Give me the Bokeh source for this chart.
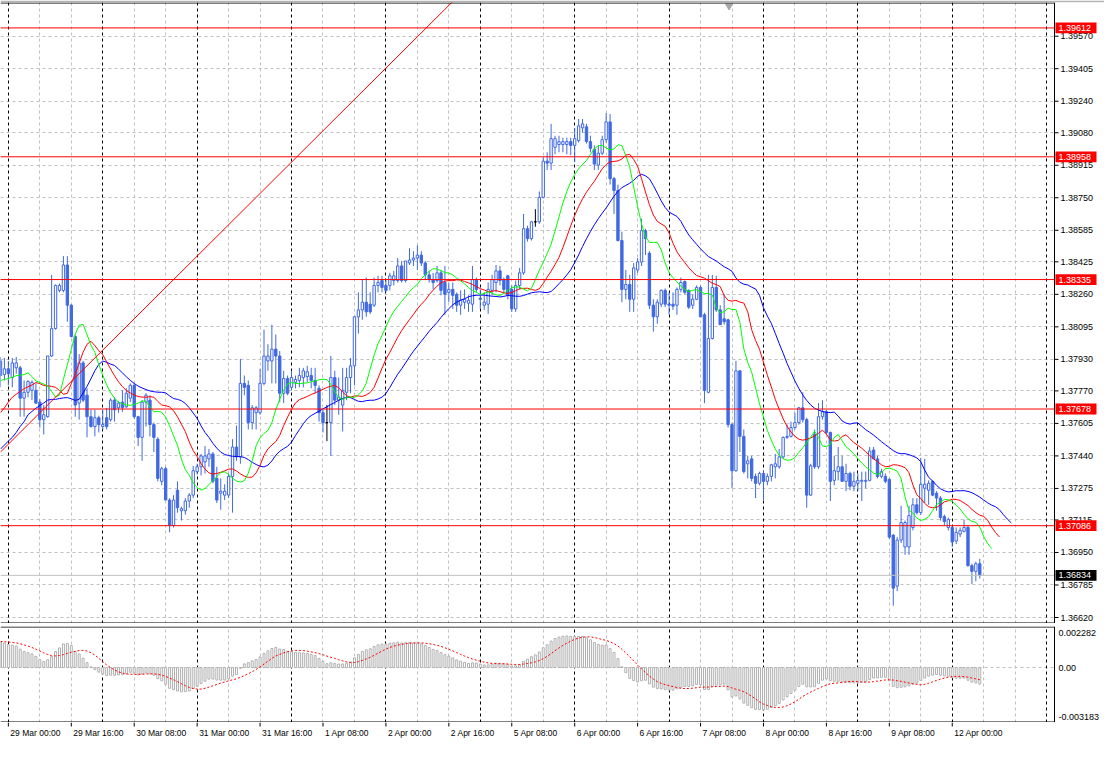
import numpy as np
from bokeh.plotting import figure
from bokeh.models import Range1d, FixedTicker, Grid, ColumnDataSource
from bokeh.layouts import column
from bokeh.embed import file_html
from bokeh.resources import INLINE
from bokeh.core.properties import value

# ---------------- data (H1 bars, bar 0 = 29 Mar 00:00, weekends skipped) ----------------
first_bar = -2

opens = [1.37848,1.37853,1.37882,1.37838,1.37887,1.37887,1.37733,1.37763,1.37773,1.37773,
1.37713,1.37624,1.37639,1.37947,1.38086,1.38280,1.38280,1.38409,1.38205,1.38046,
1.37708,1.37912,1.37748,1.37639,1.37589,1.37634,1.37589,1.37634,1.37624,1.37723,
1.37684,1.37713,1.37689,1.37733,1.37798,1.37639,1.37534,1.37713,1.37723,1.37599,
1.37525,1.37311,1.37375,1.37216,1.37087,1.37266,1.37162,1.37162,1.37211,1.37241,
1.37360,1.37385,1.37410,1.37425,1.37450,1.37326,1.37251,1.37241,1.37241,1.37336,
1.37485,1.37435,1.37808,1.37798,1.37609,1.37659,1.37659,1.37808,1.37922,1.37922,
1.37982,1.37947,1.37758,1.37833,1.37788,1.37813,1.37823,1.37838,1.37843,1.37848,
1.37823,1.37783,1.37659,1.37609,1.37609,1.37838,1.37723,1.37698,1.37763,1.37838,
1.37897,1.38146,1.38181,1.38220,1.38210,1.38205,1.38305,1.38330,1.38305,1.38305,
1.38330,1.38330,1.38404,1.38330,1.38419,1.38434,1.38444,1.38459,1.38419,1.38359,
1.38335,1.38330,1.38369,1.38320,1.38270,1.38285,1.38260,1.38205,1.38220,1.38215,
1.38210,1.38335,1.38240,1.38205,1.38210,1.38280,1.38320,1.38379,1.38335,1.38354,
1.38285,1.38186,1.38305,1.38369,1.38593,1.38543,1.38628,1.38628,1.38752,1.38936,
1.38926,1.39006,1.39020,1.39020,1.39020,1.39035,1.39016,1.39040,1.39105,1.39110,
1.39035,1.38996,1.38916,1.38976,1.39045,1.39135,1.38847,1.38787,1.38533,1.38285,
1.38310,1.38235,1.38384,1.38424,1.38583,1.38469,1.38205,1.38146,1.38210,1.38280,
1.38210,1.38210,1.38205,1.38285,1.38325,1.38280,1.38205,1.38235,1.38295,1.38156,
1.37763,1.38036,1.38295,1.38181,1.38136,1.38131,1.37599,1.37365,1.37872,1.37539,
1.37400,1.37425,1.37336,1.37301,1.37351,1.37311,1.37336,1.37385,1.37385,1.37435,
1.37534,1.37539,1.37584,1.37609,1.37684,1.37624,1.37241,1.37549,1.37385,1.37639,
1.37664,1.37559,1.37316,1.37360,1.37385,1.37311,1.37351,1.37286,1.37301,1.37311,
1.37311,1.37316,1.37470,1.37425,1.37336,1.37336,1.37321,1.37038,1.36779,1.37013,
1.36978,1.36978,1.37077,1.37192,1.37152,1.37276,1.37266,1.37311,1.37251,1.37226,
1.37132,1.37077,1.37077,1.37008,1.37043,1.37057,1.37077,1.36883,1.36854,1.36893]

highs = [1.37942,1.37937,1.37922,1.37937,1.37942,1.37897,1.37823,1.37823,1.37823,1.37808,
1.37728,1.37698,1.37947,1.38359,1.38310,1.38315,1.38454,1.38454,1.38210,1.38056,
1.37957,1.37922,1.37783,1.37674,1.37674,1.37644,1.37674,1.37684,1.37733,1.37738,
1.37718,1.37773,1.37783,1.37808,1.37808,1.37644,1.37723,1.37758,1.37748,1.37609,
1.37534,1.37385,1.37385,1.37226,1.37241,1.37311,1.37182,1.37226,1.37251,1.37390,
1.37400,1.37450,1.37490,1.37475,1.37460,1.37385,1.37326,1.37296,1.37351,1.37525,
1.37594,1.37932,1.37848,1.37823,1.37698,1.37693,1.37882,1.38081,1.38007,1.38106,
1.38056,1.37972,1.37872,1.37848,1.37872,1.37848,1.37887,1.37887,1.37897,1.37887,
1.37887,1.37798,1.37674,1.37698,1.37947,1.37872,1.37838,1.37887,1.37887,1.37937,
1.38146,1.38270,1.38335,1.38345,1.38270,1.38345,1.38354,1.38354,1.38335,1.38369,
1.38379,1.38444,1.38429,1.38429,1.38494,1.38479,1.38509,1.38479,1.38429,1.38379,
1.38369,1.38404,1.38384,1.38404,1.38320,1.38320,1.38270,1.38280,1.38285,1.38255,
1.38404,1.38345,1.38285,1.38270,1.38320,1.38359,1.38409,1.38404,1.38345,1.38359,
1.38305,1.38330,1.38394,1.38668,1.38608,1.38633,1.38692,1.38782,1.38956,1.38981,
1.39125,1.39065,1.39065,1.39055,1.39055,1.39055,1.39105,1.39150,1.39150,1.39125,
1.39065,1.39016,1.39016,1.39065,1.39180,1.39175,1.38856,1.38817,1.38578,1.38384,
1.38359,1.38419,1.38444,1.38643,1.38593,1.38479,1.38235,1.38235,1.38285,1.38290,
1.38270,1.38270,1.38295,1.38345,1.38330,1.38285,1.38260,1.38305,1.38305,1.38166,
1.38359,1.38359,1.38354,1.38205,1.38260,1.38136,1.37609,1.37922,1.37872,1.37574,
1.37440,1.37440,1.37351,1.37360,1.37365,1.37351,1.37400,1.37450,1.37475,1.37539,
1.37599,1.37614,1.37659,1.37689,1.37763,1.37634,1.37400,1.37574,1.37708,1.37723,
1.37674,1.37564,1.37440,1.37485,1.37440,1.37400,1.37360,1.37360,1.37351,1.37360,
1.37360,1.37485,1.37485,1.37440,1.37375,1.37351,1.37326,1.37043,1.37028,1.37187,
1.37112,1.37187,1.37226,1.37226,1.37430,1.37425,1.37316,1.37316,1.37261,1.37236,
1.37142,1.37127,1.37087,1.37077,1.37077,1.37117,1.37087,1.36893,1.36903,1.36918]

lows = [1.37788,1.37823,1.37798,1.37788,1.37857,1.37639,1.37639,1.37738,1.37723,1.37703,
1.37584,1.37549,1.37634,1.37942,1.38081,1.38270,1.38270,1.38121,1.38041,1.37639,
1.37624,1.37713,1.37534,1.37584,1.37539,1.37559,1.37574,1.37574,1.37614,1.37614,
1.37659,1.37664,1.37684,1.37713,1.37629,1.37490,1.37415,1.37589,1.37539,1.37460,
1.37311,1.37291,1.37216,1.37052,1.37077,1.37152,1.37112,1.37142,1.37177,1.37226,
1.37346,1.37341,1.37351,1.37385,1.37301,1.37201,1.37167,1.37216,1.37226,1.37152,
1.37415,1.37400,1.37748,1.37574,1.37574,1.37574,1.37649,1.37798,1.37872,1.37808,
1.37808,1.37713,1.37708,1.37748,1.37773,1.37783,1.37788,1.37788,1.37813,1.37783,
1.37758,1.37614,1.37559,1.37515,1.37440,1.37698,1.37649,1.37564,1.37723,1.37758,
1.37798,1.38061,1.38131,1.38146,1.38161,1.38195,1.38270,1.38270,1.38270,1.38280,
1.38305,1.38320,1.38320,1.38320,1.38409,1.38404,1.38384,1.38404,1.38335,1.38320,
1.38285,1.38320,1.38255,1.38156,1.38220,1.38186,1.38171,1.38156,1.38186,1.38171,
1.38171,1.38270,1.38186,1.38181,1.38161,1.38255,1.38270,1.38305,1.38270,1.38235,
1.38171,1.38171,1.38285,1.38359,1.38528,1.38533,1.38603,1.38618,1.38747,1.38891,
1.38891,1.38971,1.38981,1.38981,1.38971,1.38966,1.38931,1.39030,1.39080,1.39025,
1.38981,1.38891,1.38891,1.38966,1.39030,1.38817,1.38668,1.38528,1.38220,1.38235,
1.38171,1.38171,1.38369,1.38404,1.38459,1.38186,1.38071,1.38111,1.38195,1.38195,
1.38156,1.38181,1.38156,1.38270,1.38260,1.38186,1.38186,1.38230,1.38146,1.37708,
1.37758,1.38031,1.38171,1.38106,1.38106,1.37584,1.37276,1.37360,1.37460,1.37351,
1.37326,1.37311,1.37226,1.37291,1.37216,1.37291,1.37311,1.37326,1.37375,1.37425,
1.37525,1.37534,1.37574,1.37599,1.37609,1.37177,1.37236,1.37375,1.37375,1.37624,
1.37549,1.37211,1.37291,1.37316,1.37311,1.37261,1.37266,1.37261,1.37261,1.37211,
1.37276,1.37311,1.37425,1.37326,1.37326,1.37301,1.37018,1.36680,1.36754,1.36998,
1.36938,1.36938,1.37062,1.37142,1.37142,1.37201,1.37192,1.37236,1.37162,1.37112,
1.37087,1.37062,1.36978,1.36993,1.37028,1.37052,1.36878,1.36789,1.36804,1.36818]

closes = [1.37922,1.37882,1.37857,1.37912,1.37912,1.37733,1.37763,1.37818,1.37813,1.37708,
1.37624,1.37649,1.37947,1.38086,1.38305,1.38305,1.38409,1.38205,1.38046,1.37698,
1.37912,1.37723,1.37639,1.37589,1.37634,1.37599,1.37599,1.37589,1.37723,1.37674,
1.37708,1.37684,1.37758,1.37798,1.37639,1.37534,1.37713,1.37748,1.37599,1.37534,
1.37326,1.37375,1.37216,1.37087,1.37216,1.37177,1.37172,1.37211,1.37241,1.37365,
1.37385,1.37440,1.37440,1.37450,1.37311,1.37216,1.37261,1.37261,1.37336,1.37485,
1.37435,1.37808,1.37788,1.37609,1.37684,1.37684,1.37808,1.37947,1.37947,1.37982,
1.37947,1.37758,1.37833,1.37758,1.37838,1.37828,1.37848,1.37872,1.37867,1.37823,
1.37798,1.37659,1.37609,1.37609,1.37838,1.37723,1.37738,1.37773,1.37838,1.37897,
1.38146,1.38181,1.38220,1.38171,1.38171,1.38305,1.38320,1.38295,1.38280,1.38354,
1.38354,1.38404,1.38330,1.38429,1.38434,1.38444,1.38459,1.38419,1.38359,1.38335,
1.38320,1.38369,1.38280,1.38260,1.38285,1.38255,1.38205,1.38230,1.38235,1.38230,
1.38335,1.38285,1.38235,1.38220,1.38285,1.38335,1.38379,1.38330,1.38285,1.38255,
1.38186,1.38305,1.38369,1.38593,1.38543,1.38628,1.38628,1.38752,1.38936,1.38926,
1.39050,1.39050,1.39035,1.39035,1.39035,1.39016,1.39050,1.39115,1.39125,1.39035,
1.39001,1.38921,1.38976,1.39045,1.39135,1.38847,1.38787,1.38533,1.38285,1.38310,
1.38235,1.38394,1.38424,1.38583,1.38543,1.38205,1.38146,1.38220,1.38280,1.38210,
1.38205,1.38200,1.38285,1.38320,1.38270,1.38195,1.38235,1.38295,1.38146,1.37773,
1.38036,1.38295,1.38181,1.38106,1.38121,1.37599,1.37365,1.37872,1.37539,1.37360,
1.37415,1.37326,1.37301,1.37351,1.37311,1.37336,1.37395,1.37400,1.37435,1.37534,
1.37539,1.37584,1.37609,1.37684,1.37624,1.37241,1.37390,1.37385,1.37639,1.37664,
1.37559,1.37311,1.37365,1.37385,1.37311,1.37351,1.37286,1.37311,1.37316,1.37316,
1.37316,1.37465,1.37425,1.37336,1.37360,1.37311,1.37028,1.36769,1.37013,1.37102,
1.37102,1.37137,1.37192,1.37152,1.37296,1.37296,1.37301,1.37241,1.37226,1.37127,
1.37107,1.37117,1.37003,1.37052,1.37062,1.37077,1.36883,1.36854,1.36893,1.36834]

# Alligator lines at the left edge (display bars -2 ...)
jaw_lead = [1.37475, 1.37495, 1.37515, 1.37534, 1.37559, 1.37589, 1.37614, 1.37649]
teeth_lead = [1.37659, 1.37684, 1.37713, 1.37738, 1.37753]
lips_lead = [1.37823, 1.37828, 1.37833]

# MACD(12,26,9) state before the first visible bar
ema12_seed = 1.37800
ema26_seed = 1.37630

# horizontal levels, bid, trend line
level_prices = [1.39612, 1.38958, 1.38335, 1.37678, 1.37086]
level_texts = ["1.39612", "1.38958", "1.38335", "1.37678", "1.37086"]
bid_price = 1.36834
bid_text = "1.36834"
trend_bars = [-2.0, 113.5]
trend_prices = [1.37460, 1.39756]

# axes
price_tick_labels = ["1.36620", "1.36785", "1.36950", "1.37115", "1.37275", "1.37440",
                     "1.37605", "1.37770", "1.37930", "1.38095", "1.38260", "1.38425",
                     "1.38585", "1.38750", "1.38915", "1.39080", "1.39240", "1.39405", "1.39570"]
date_bars = [0, 16, 32, 48, 64, 80, 96, 112, 128, 144, 160, 176, 192, 208, 224, 240]
date_labels = ["29 Mar 00:00", "29 Mar 16:00", "30 Mar 08:00", "31 Mar 00:00",
               "31 Mar 16:00", "1 Apr 08:00", "2 Apr 00:00", "2 Apr 16:00",
               "5 Apr 08:00", "6 Apr 00:00", "6 Apr 16:00", "7 Apr 08:00",
               "8 Apr 00:00", "8 Apr 16:00", "9 Apr 08:00", "12 Apr 00:00"]
macd_tick_values = [0.002282, 0.0, -0.003183]
macd_tick_labels = ["0.002282", "0.00", "-0.003183"]
shift_marker_bar = 183.25

# ---------------- derived series ----------------
O = np.array(opens); H = np.array(highs); L = np.array(lows); C = np.array(closes)
n = len(C)
idx = np.arange(first_bar, first_bar + n)

BLUE = "#4169E1"
body_fill, body_line, wick_col = [], [], []
for o, c in zip(O, C):
    if abs(o - c) < 1e-9:
        body_fill.append("black"); body_line.append("black"); wick_col.append("black")
    elif c > o:
        body_fill.append("white"); body_line.append(BLUE); wick_col.append(BLUE)
    else:
        body_fill.append(BLUE); body_line.append(BLUE); wick_col.append(BLUE)

median = (H + L) / 2.0

def smma(series, period, start):
    out, s = [], start
    for v in series:
        s = (s * (period - 1) + v) / period
        out.append(s)
    return np.array(out)

jaw = smma(median, 13, jaw_lead[-1])
teeth = smma(median, 8, teeth_lead[-1])
lips = smma(median, 5, lips_lead[-1])
jaw_x = np.concatenate([np.arange(first_bar, first_bar + len(jaw_lead)), idx + 8])
jaw_y = np.concatenate([jaw_lead, jaw])
teeth_x = np.concatenate([np.arange(first_bar, first_bar + len(teeth_lead)), idx + 5])
teeth_y = np.concatenate([teeth_lead, teeth])
lips_x = np.concatenate([np.arange(first_bar, first_bar + len(lips_lead)), idx + 3])
lips_y = np.concatenate([lips_lead, lips])

def ema(series, period, start):
    a = 2.0 / (period + 1)
    out, s = [], start
    for v in series:
        s = s + a * (v - s)
        out.append(s)
    return np.array(out)

macd_main = ema(C, 12, ema12_seed) - ema(C, 26, ema26_seed)
padded = [ema12_seed - ema26_seed] * 8 + list(macd_main)
macd_signal = np.array([np.mean(padded[k:k + 9]) for k in range(n)])

# ---------------- layout constants ----------------
FONT = "Liberation Sans"
FS = "9px"
FS_DATE = "8.5px"
GRID_GRAY = "#C0C0C0"
W = 1104
SCALE_W = 50                      # width of the price-scale strip (px)
X0, X1 = -2, 266                  # visible bars (X1 = right border of the chart)
PPB = (W - SCALE_W) / (X1 - X0)   # pixels per bar
XE = X0 + W / PPB                 # right end incl. price-scale strip
def bx(px):
    return px / PPB

MAIN_H = 621
PY1 = 1.39741
PPX = (PY1 - float(price_tick_labels[0])) / (MAIN_H - 6)
PY0 = float(price_tick_labels[0]) - 6 * PPX
MACD_H = 96
MPX = (macd_tick_values[0] - macd_tick_values[-1]) / (MACD_H - 12)
MY1 = macd_tick_values[0] + 6 * MPX
MY0 = macd_tick_values[-1] - 6 * MPX
STRIP_H = 20

vgrid_gray = [b for b in range(0, 272, 8) if b % 24 != 0]
vgrid_sep = list(range(0, 272, 24))

def add_vgrids(fig):
    fig.add_layout(Grid(dimension=0, ticker=FixedTicker(ticks=vgrid_gray),
                        grid_line_color=GRID_GRAY, grid_line_dash="3 3"), "center")
    fig.add_layout(Grid(dimension=0, ticker=FixedTicker(ticks=vgrid_sep),
                        grid_line_color="black", grid_line_dash="3 3"), "center")

def base_fig(height, y0, y1, top_border, xr=None, border_color="white"):
    f = figure(width=W, height=height, x_range=xr if xr is not None else Range1d(X0, XE),
               y_range=Range1d(y0, y1), x_axis_location=None, y_axis_location=None,
               toolbar_location=None, output_backend="svg",
               min_border_left=0, min_border_right=0, min_border_top=top_border,
               min_border_bottom=0)
    f.background_fill_color = "white"
    f.border_fill_color = border_color
    f.outline_line_color = None
    f.xgrid.visible = False
    f.ygrid.visible = False
    return f

# ---------------- main price panel ----------------
p = base_fig(MAIN_H + 2, PY0, PY1, 2, border_color="#B4B4B4")
price_ticks = [float(s) for s in price_tick_labels]
p.add_layout(Grid(dimension=1, ticker=FixedTicker(ticks=price_ticks),
                  grid_line_color=GRID_GRAY, grid_line_dash="3 3"), "center")
add_vgrids(p)

src = ColumnDataSource(dict(x=idx, h=H, l=L, top=np.maximum(O, C), bottom=np.minimum(O, C),
                            fill=body_fill, line=body_line, wick=wick_col))
p.segment(x0="x", y0="l", x1="x", y1="h", line_color="wick", line_width=1, source=src)
p.vbar(x="x", width=0.6, top="top", bottom="bottom", fill_color="fill",
       line_color="line", line_width=1, source=src)

p.line(jaw_x, jaw_y, line_color="#0000FF", line_width=1)
p.line(teeth_x, teeth_y, line_color="#FF0000", line_width=1)
p.line(lips_x, lips_y, line_color="#00FF00", line_width=1)
p.line(trend_bars, trend_prices, line_color="#FF0000", line_width=1)

nl = len(level_prices)
p.segment(x0=[X0] * nl, y0=level_prices, x1=[X1] * nl, y1=level_prices,
          line_color="#FF0000", line_width=1)
p.segment(x0=[X0], y0=[bid_price], x1=[X1], y1=[bid_price], line_color=GRID_GRAY, line_width=1)

p.scatter([shift_marker_bar], [PY1 - 3.5 * PPX], marker="inverted_triangle", size=7,
          fill_color="#A8A8A8", line_color="#A8A8A8")

# price scale strip
p.quad(left=[X1], right=[XE], bottom=[PY0], top=[PY1], fill_color="white", line_color=None)
p.segment(x0=[X1] * len(price_ticks), y0=price_ticks, x1=[X1 + bx(4)] * len(price_ticks),
          y1=price_ticks, line_color="black", line_width=1)
p.text(x=[X1] * len(price_ticks), y=price_ticks, text=price_tick_labels, x_offset=6,
       text_font=value(FONT), text_font_size=value(FS), text_color="black",
       text_align="left", text_baseline="middle")
box_colors = ["#FF0000"] * nl + ["black"]
box_prices = level_prices + [bid_price]
box_texts = level_texts + [bid_text]
p.quad(left=[X1 + bx(1)] * len(box_prices), right=[X1 + bx(42)] * len(box_prices),
       bottom=[v - 5.4 * PPX for v in box_prices], top=[v + 5.4 * PPX for v in box_prices],
       fill_color=box_colors, line_color=None)
p.text(x=[X1] * len(box_prices), y=box_prices, text=box_texts, x_offset=4,
       text_font=value(FONT), text_font_size=value(FS), text_color="white",
       text_align="left", text_baseline="middle")
# chart borders
p.segment(x0=[X1], y0=[PY0], x1=[X1], y1=[PY1], line_color="black", line_width=1)
p.segment(x0=[X0, X0], y0=[PY1 - 0.5 * PPX, PY0 + 0.5 * PPX], x1=[X1, X1],
          y1=[PY1 - 0.5 * PPX, PY0 + 0.5 * PPX], line_color="black", line_width=1)

# ---------------- MACD panel ----------------
q = base_fig(MACD_H + 3, MY0, MY1, 3, xr=p.x_range)
q.add_layout(Grid(dimension=1, ticker=FixedTicker(ticks=[0.0]),
                  grid_line_color=GRID_GRAY, grid_line_dash="3 3"), "center")
add_vgrids(q)
q.vbar(x=idx, top=macd_main, bottom=0, width=0.5, fill_color="white",
       line_color="#B0B0B0", line_width=1)
q.line(idx, macd_signal, line_color="#FF0000", line_width=1, line_dash="2 2")
q.quad(left=[X1], right=[XE], bottom=[MY0], top=[MY1], fill_color="white", line_color=None)
q.text(x=[X1] * 3, y=macd_tick_values, text=macd_tick_labels, x_offset=4,
       text_font=value(FONT), text_font_size=value(FS), text_color="black",
       text_align="left", text_baseline="middle")
q.segment(x0=[X1], y0=[MY0], x1=[X1], y1=[MY1], line_color="black", line_width=1)
q.segment(x0=[X0, X0], y0=[MY1 - 0.5 * MPX, MY0 + 0.5 * MPX], x1=[X1, X1],
          y1=[MY1 - 0.5 * MPX, MY0 + 0.5 * MPX], line_color="black", line_width=1)

# ---------------- time scale strip ----------------
d = base_fig(STRIP_H, 0, STRIP_H, 0, xr=p.x_range)
nd = len(date_bars)
d.segment(x0=date_bars, y0=[STRIP_H] * nd, x1=date_bars, y1=[STRIP_H - 4] * nd,
          line_color="black", line_width=1)
d.text(x=date_bars, y=[STRIP_H - 5] * nd, text=date_labels, x_offset=2,
       text_font=value(FONT), text_font_size=value(FS_DATE), text_color="black",
       text_align="left", text_baseline="top")

layout = column(p, q, d, spacing=0)
open("out.html", "w").write(file_html(layout, INLINE))
